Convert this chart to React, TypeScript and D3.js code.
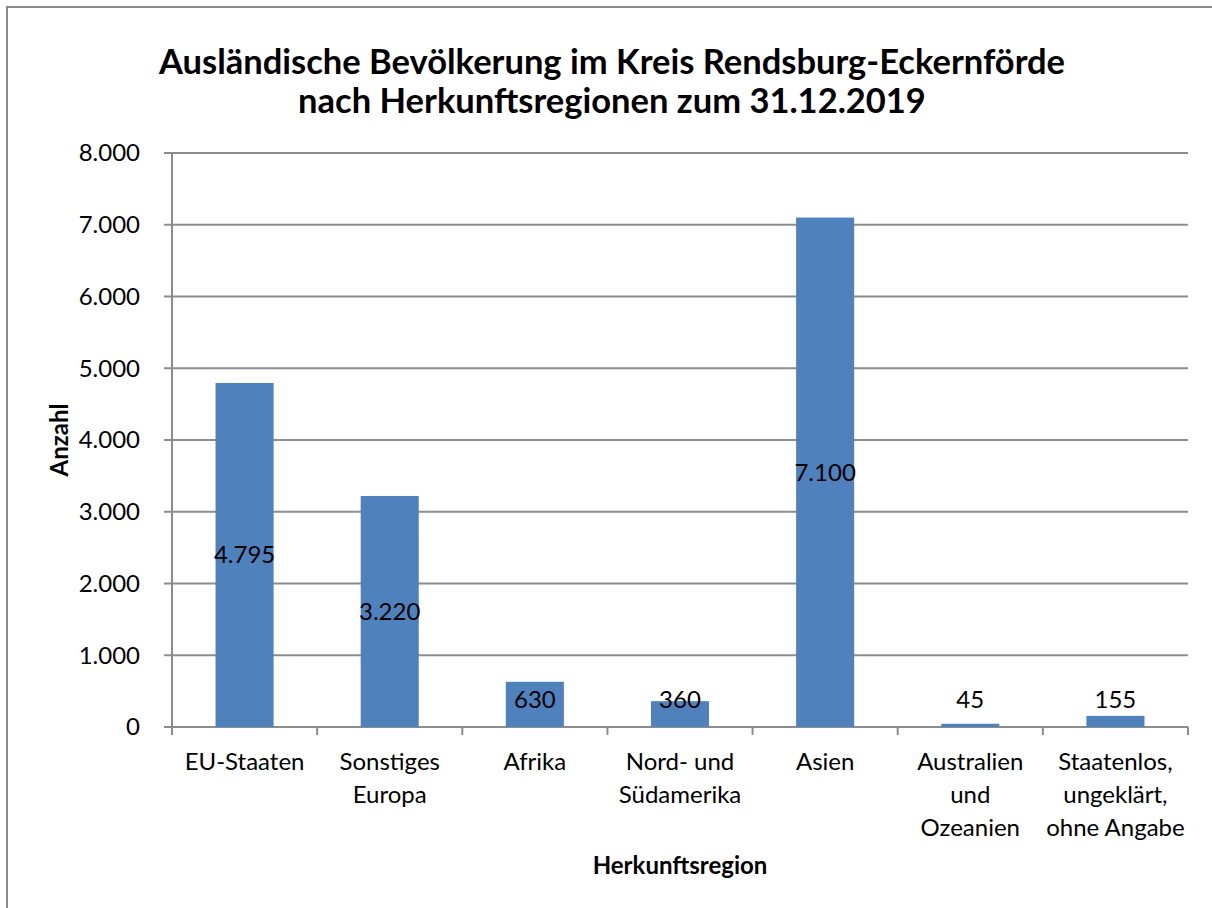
import React from "react";
import * as d3 from "d3";

const categories = [
  ["EU-Staaten"],
  ["Sonstiges", "Europa"],
  ["Afrika"],
  ["Nord- und", "Südamerika"],
  ["Asien"],
  ["Australien", "und", "Ozeanien"],
  ["Staatenlos,", "ungeklärt,", "ohne Angabe"],
];
const values = [4795, 3220, 630, 360, 7100, 45, 155];
const yTicks = [0, 1000, 2000, 3000, 4000, 5000, 6000, 7000, 8000];
const titleLines = [
  "Ausländische Bevölkerung im Kreis Rendsburg-Eckernförde",
  "nach Herkunftsregionen zum 31.12.2019",
];

const W = 1212;
const H = 908;
const FONT = "Lato, 'Open Sans', sans-serif";
const GRID = "#8c8c8c";
const BAR = "#4f81bd";

const fmt = (v: number) => d3.format(",")(v).replace(/,/g, ".");

export default function App() {
  // Plotbereich
  const left = 172, right = 1188, top = 153, bottom = 727;

  const x = d3.scaleBand<number>()
    .domain(d3.range(categories.length))
    .range([left, right])
    .paddingInner(0.6)
    .paddingOuter(0.3);
  const band = (right - left) / categories.length;
  const y = d3.scaleLinear().domain([0, 8000]).range([bottom, top]);

  return (
    <div style={{ position: "absolute", left: 0, top: 0, width: W, height: H, overflow: "hidden" }}>
      <svg width={W} height={H} style={{ display: "block", background: "#fff" }} fontFamily={FONT}>
        <rect x={7} y={7} width={W + 10} height={H + 10} fill="#fff" stroke="#8a8a8a" strokeWidth={2} />

        {/* Titel */}
        {titleLines.map((t, i) => (
          <text key={i} x={612} y={74 + i * 39} textAnchor="middle" fontSize={34.5} fontWeight="bold" fill="#000">
            {t}
          </text>
        ))}

        {/* Gitterlinien + Y-Achse */}
        {yTicks.map(t => (
          <g key={t}>
            <line x1={left - 8} x2={right} y1={y(t)} y2={y(t)} stroke={GRID} strokeWidth={2} />
            <text x={left - 32} y={y(t)} dy="0.35em" textAnchor="end" fontSize={24} fill="#000">
              {fmt(t)}
            </text>
          </g>
        ))}
        <line x1={left} x2={left} y1={top} y2={bottom} stroke={GRID} strokeWidth={2} />

        {/* X-Achsen-Ticks */}
        {d3.range(categories.length + 1).map(i => (
          <line key={i} x1={left + i * band} x2={left + i * band} y1={bottom} y2={bottom + 8}
            stroke={GRID} strokeWidth={2} />
        ))}

        {/* Balken */}
        {values.map((v, i) => (
          <rect key={i} x={x(i)} y={y(v)} width={x.bandwidth()} height={y(0) - y(v)} fill={BAR} />
        ))}

        {/* Datenbeschriftung */}
        {values.map((v, i) => {
          const mid = (y(v) + y(0)) / 2;
          return (
            <text key={i} x={(x(i) ?? 0) + x.bandwidth() / 2} y={Math.min(mid, y(0) - 27)} dy="0.35em"
              textAnchor="middle" fontSize={24} fill="#000">
              {fmt(v)}
            </text>
          );
        })}

        {/* Kategorien */}
        {categories.map((lines, i) => (
          <text key={i} x={left + (i + 0.5) * band} y={762} textAnchor="middle" fontSize={24} fill="#000">
            {lines.map((l, j) => (
              <tspan key={j} x={left + (i + 0.5) * band} dy={j === 0 ? "0.35em" : 33}>{l}</tspan>
            ))}
          </text>
        ))}

        {/* Achsentitel */}
        <text transform={`translate(60,${(top + bottom) / 2}) rotate(-90)`} textAnchor="middle" dy="0.35em"
          fontSize={24} fontWeight="bold" fill="#000">
          Anzahl
        </text>
        <text x={680} y={866} dy="0.35em" textAnchor="middle" fontSize={24} fontWeight="bold" fill="#000">
          Herkunftsregion
        </text>
      </svg>
    </div>
  );
}
